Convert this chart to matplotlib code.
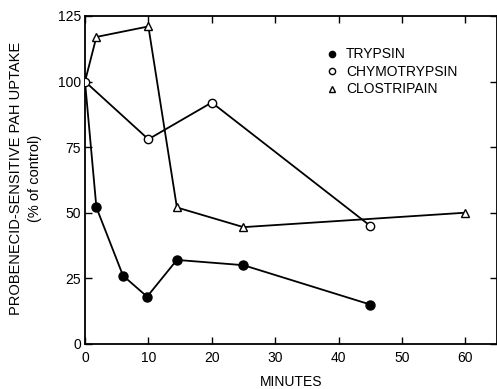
import matplotlib
matplotlib.use("Agg")
import matplotlib.pyplot as plt
from matplotlib.lines import Line2D

plt.rcParams['font.family'] = ['Liberation Sans', 'DejaVu Sans']

trypsin_x = [0, 1.8, 6, 9.8, 14.5, 25, 45]
trypsin_y = [100, 52, 26, 18, 32, 30, 15]
chymo_x = [0, 10, 20, 45]
chymo_y = [100, 78, 92, 45]
clostri_x = [0, 1.8, 10, 14.5, 25, 60]
clostri_y = [100, 117, 121, 52, 44.5, 50]

xticks = [0, 10, 20, 30, 40, 50, 60]
yticks = [0, 25, 50, 75, 100, 125]

fig = plt.figure(figsize=(4.97, 3.89), dpi=100)
ax = fig.add_axes([0.171, 0.116, 0.829, 0.843])

lw = 1.3
ax.plot(clostri_x, clostri_y, color='black', lw=lw, marker='^', ms=5.5,
        mfc='white', mec='black', mew=1.0, zorder=3,
        markevery=list(range(1, len(clostri_x))))
ax.plot(trypsin_x, trypsin_y, color='black', lw=lw, marker='o', ms=6.5,
        mfc='black', mec='black', zorder=4,
        markevery=list(range(1, len(trypsin_x))))
ax.plot(chymo_x, chymo_y, color='black', lw=lw, marker='o', ms=6,
        mfc='white', mec='black', mew=1.0, zorder=5)

ax.set_xlim(0, 65)
ax.set_ylim(0, 125)
ax.set_xticks(xticks)
ax.set_yticks(yticks)
ax.tick_params(direction='in', top=True, right=True, length=5, width=1.0,
               labelsize=10)
ax.tick_params(axis='x', pad=5)
ax.tick_params(axis='y', pad=3)
for s in ax.spines.values():
    s.set_linewidth(1.3)

ax.set_xlabel('MINUTES', fontsize=10, labelpad=7)
fig.text(0.032, 0.542, 'PROBENECID-SENSITIVE PAH UPTAKE', rotation=90,
         ha='center', va='center', fontsize=10.5)
fig.text(0.07, 0.542, '(% of control)', rotation=90,
         ha='center', va='center', fontsize=10.5)

handles = [
    Line2D([], [], ls='none', marker='o', ms=4.5, mfc='black', mec='black'),
    Line2D([], [], ls='none', marker='o', ms=4.5, mfc='white', mec='black'),
    Line2D([], [], ls='none', marker='^', ms=4.5, mfc='white', mec='black'),
]
ax.legend(handles, ['TRYPSIN', 'CHYMOTRYPSIN', 'CLOSTRIPAIN'],
          loc='upper left', bbox_to_anchor=(0.57, 0.925), frameon=False,
          fontsize=10, handlelength=0.8, handletextpad=0.6,
          labelspacing=0.25, borderpad=0)

fig.savefig('out.png', dpi=100)
